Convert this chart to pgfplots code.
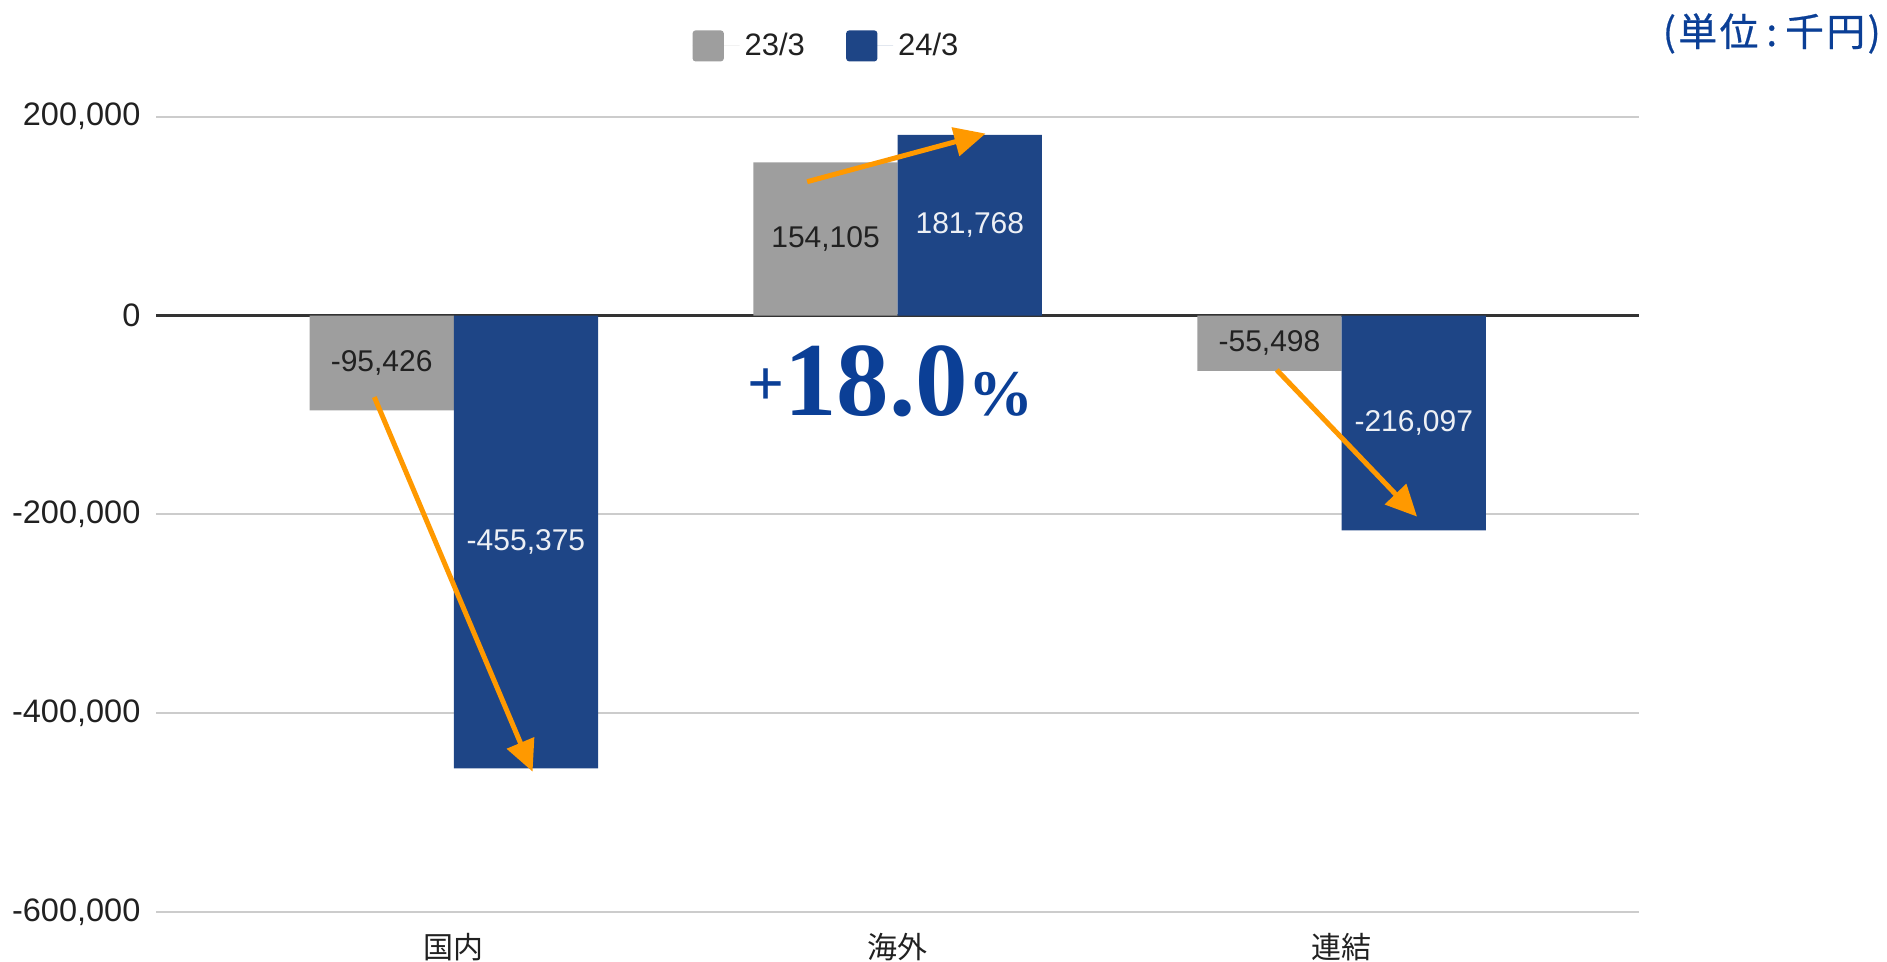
\documentclass[border=0pt]{standalone}
\usepackage{fontspec}
\setmainfont{Liberation Sans}
\newfontfamily\jp{Noto Sans CJK JP}
\newfontfamily\jpm[FakeBold=0.6]{Noto Sans CJK JP}
\newfontfamily\ser{Liberation Serif}
\usepackage{pgfplots}
\pgfplotsset{compat=1.18}
\usepackage{pgfplotstable}
\usetikzlibrary{arrows.meta}
\definecolor{cgray}{HTML}{9E9E9E}
\definecolor{cblue}{HTML}{1E4586}
\definecolor{corange}{HTML}{FF9900}
\definecolor{ctext}{HTML}{0B3F96}
\definecolor{cgrid}{HTML}{CCCCCC}

\pgfplotstableread{
x y23 y24
0 -95426 -455375
1 154105 181768
2 -55498 -216097
}\data

\begin{document}
\begin{tikzpicture}
\path[use as bounding box] (0,0) rectangle (754.8pt,384.8pt);
\begin{axis}[
 at={(62.56pt,19.92pt)}, anchor=south west,
 width=593.04pt, height=318.2pt, scale only axis,
 xmin=-0.67, xmax=2.67, ymin=-600000, ymax=200000,
 axis line style={draw=none},
 ytick={-600000,-400000,-200000,0,200000},
 xtick={0,1,2}, xticklabels={国内,海外,連結},
 major tick length=0pt,
 ymajorgrids, grid style={draw=cgrid, line width=0.8pt},
 extra y ticks={0}, extra y tick labels={},
 extra y tick style={grid style={draw=black!80, line width=0.9pt}},
 scaled y ticks=false,
 /pgf/number format/fixed,
 /pgf/number format/1000 sep={,},
 /pgf/number format/precision=0,
 /pgf/number format/assume math mode=true,
 yticklabel style={font=\fontsize{13}{13}\selectfont, text=black!87, anchor=east, inner sep=0pt, xshift=-6.2pt},
 xticklabel style={font=\jp\fontsize{12}{12}\selectfont, text=black!87, anchor=center, yshift=-14pt, inner sep=0pt},
 legend style={draw=none, at={(0.453,1.089)}, anchor=center, legend columns=2,
   font=\fontsize{12.4}{12.4}\selectfont, text=black!87,
   /tikz/every even column/.append style={column sep=14.5pt}},
]
\addplot[ybar, bar width=0.325, bar shift=-0.1625, fill=cgray, draw=none,
  legend image code/.code={\fill[cgray, rounded corners=1.2pt] (0pt,-6.2pt) rectangle (12.5pt,6.2pt); \path (0pt,0pt) -- (18.8pt,0pt);}]
  table[x=x, y=y23] {\data};
\addlegendentry{23/3}
\addplot[ybar, bar width=0.325, bar shift=0.1625, fill=cblue, draw=none,
  legend image code/.code={\fill[cblue, rounded corners=1.2pt] (0pt,-6.2pt) rectangle (12.5pt,6.2pt); \path (0pt,0pt) -- (18.8pt,0pt);}]
  table[x=x, y=y24] {\data};
\addlegendentry{24/3}

\addplot[draw=none, mark=none, forget plot, nodes near coords, point meta=explicit,
  every node near coord/.append style={anchor=center, font=\fontsize{12}{12}\selectfont, text=black!87}]
  table[x expr=\thisrow{x}-0.1625, y expr=\thisrow{y23}/2, meta=y23] {\data};
\addplot[draw=none, mark=none, forget plot, nodes near coords, point meta=explicit,
  every node near coord/.append style={anchor=center, font=\fontsize{12}{12}\selectfont, text=white!92!cblue}]
  table[x expr=\thisrow{x}+0.1625, y expr=\thisrow{y24}/2, meta=y24] {\data};

\draw[corange, line width=2pt, -{Triangle[length=12.5pt,width=11.5pt]}] (axis cs:-0.179,-81958) -- (axis cs:0.1775,-458670);
\draw[corange, line width=2pt, -{Triangle[length=12.5pt,width=11.5pt]}] (axis cs:0.796,134650) -- (axis cs:1.198,183030);
\draw[corange, line width=2pt, -{Triangle[length=12.5pt,width=11.5pt]}] (axis cs:1.854,-54700) -- (axis cs:2.170,-202200);

\node[anchor=base, text=ctext, inner sep=0pt] at (axis cs:0.983,-100000)
  {\ser\bfseries\fontsize{26}{26}\selectfont\raisebox{4pt}{+}\fontsize{42}{42}\selectfont 18.0\fontsize{26}{26}\selectfont\%};
\end{axis}
\node[anchor=east, text=ctext, inner sep=0pt] at (752.5pt,371.4pt)
  {\jpm\fontsize{15.5}{15.5}\selectfont (\kern1pt 単\kern1pt 位\kern3.2pt:\kern3.2pt 千\kern1pt 円\kern1pt )};
\end{tikzpicture}
\end{document}
